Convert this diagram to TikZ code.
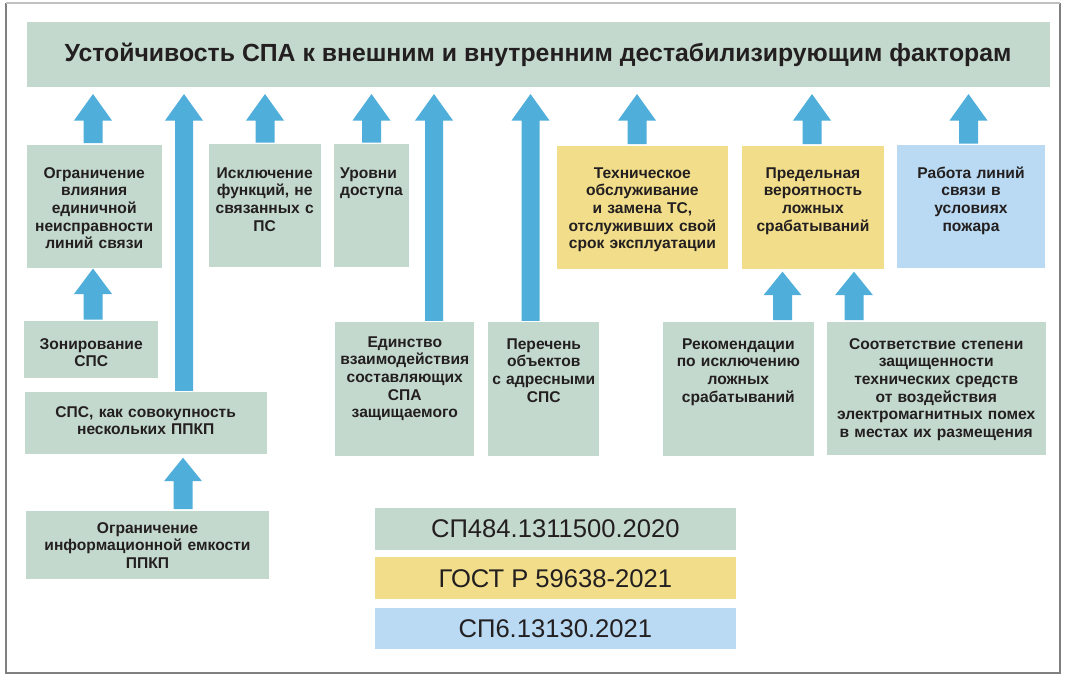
\documentclass[tikz,border=0pt]{standalone}
\usepackage{fontspec}
\setmainfont{Liberation Sans}
\usetikzlibrary{calc}
\definecolor{boxgreen}{RGB}{196,217,205}
\definecolor{boxyellow}{RGB}{242,222,138}
\definecolor{boxblue}{RGB}{185,218,242}
\definecolor{arrowblue}{RGB}{79,174,218}
\definecolor{txtcol}{RGB}{35,31,32}
\tikzset{
  boxnode/.style={rectangle, draw=none, inner sep=0pt, outer sep=0pt},
  boxtext/.style={font=\fontsize{15.6}{17.7}\selectfont\bfseries, text=txtcol, align=center, inner sep=0pt, anchor=base},
  legtext/.style={font=\fontsize{25.6}{30}\selectfont, text=txtcol},
}
% #1 x, #2 source node, #3 target node, #4 gap under target, #5 head length, #6 shaft width
\newcommand\blkarrow[6]{%
  \path[fill=arrowblue] let \p1=(#2.north), \p2=(#3.south) in
    (#1pt-#6pt/2, \y1+1.5pt) -- (#1pt-#6pt/2, \y2-#4pt-#5pt) -- (#1pt-19pt, \y2-#4pt-#5pt)
    -- (#1pt, \y2-#4pt) -- (#1pt+19pt, \y2-#4pt-#5pt) -- (#1pt+#6pt/2, \y2-#4pt-#5pt)
    -- (#1pt+#6pt/2, \y1+1.5pt) -- cycle;
}
\begin{document}
\begin{tikzpicture}[x=1pt,y=-1pt]
\useasboundingbox[fill=white] (0,0) rectangle (1065,678);
% frame
\draw[line width=1.2pt, color={rgb,255:red,128;green,128;blue,128}] (6,3) -- (6,673) -- (1060,673) -- (1060,3);
\draw[line width=1.2pt, color={rgb,255:red,192;green,192;blue,192}] (6,3) -- (1060,3);

% title
\node[boxnode, fill=boxgreen, minimum width=1023pt, minimum height=65.3pt,
      font=\fontsize{24.8}{28}\selectfont\bfseries, text=txtcol] (title) at (538,54.4)
      {Устойчивость СПА к внешним и внутренним дестабилизирующим факторам};

% top row
\node[boxnode, fill=boxgreen, minimum width=135pt, minimum height=123pt] (A) at (94.2,206) {};
\node[boxtext, text width=135pt] (At) at (94.2,178) {Ограничение\\влияния\\единичной\\неисправности\\линий связи};
\node[boxnode, fill=boxgreen, minimum width=112pt, minimum height=123pt] (B) at (264.7,205.5) {};
\node[boxtext, text width=112pt] (Bt) at (264.7,178) {Исключение\\функций, не\\связанных с\\ПС};
\node[boxnode, fill=boxgreen, minimum width=75pt, minimum height=123pt] (C) at (371.2,205.5) {};
\node[boxtext, align=left, text width=66pt, anchor=base west] (Ct) at (340,178) {Уровни\\доступа};
\node[boxnode, fill=boxyellow, minimum width=171.3pt, minimum height=123pt] (D) at (642.35,207) {};
\node[boxtext, text width=171pt] (Dt) at (642.35,178) {Техническое\\обслуживание\\и замена ТС,\\отслуживших свой\\срок эксплуатации};
\node[boxnode, fill=boxyellow, minimum width=141.3pt, minimum height=123pt] (E) at (812.95,207) {};
\node[boxtext, text width=141pt] (Et) at (812.95,178) {Предельная\\вероятность\\ложных\\срабатываний};
\node[boxnode, fill=boxblue, minimum width=148pt, minimum height=123pt] (F) at (971,206.5) {};
\node[boxtext, text width=148pt] (Ft) at (971,178) {Работа линий\\связи в\\условиях\\пожара};

% middle row
\node[boxnode, fill=boxgreen, minimum width=134.3pt, minimum height=57.3pt] (G) at (91.15,349.65) {};
\node[boxtext, text width=134pt] (Gt) at (91.15,349) {Зонирование\\СПС};
\node[boxnode, fill=boxgreen, minimum width=242pt, minimum height=61.7pt] (H) at (145.7,423.15) {};
\node[boxtext, text width=242pt] (Ht) at (145.7,417) {СПС, как совокупность\\нескольких ППКП};
\node[boxnode, fill=boxgreen, minimum width=139pt, minimum height=133.7pt] (I) at (404.8,389.15) {};
\node[boxtext, text width=139pt] (It) at (404.8,347) {Единство\\взаимодействия\\составляющих\\СПА\\защищаемого};
\node[boxnode, fill=boxgreen, minimum width=111pt, minimum height=133.7pt] (J) at (543.8,389.15) {};
\node[boxtext, text width=111pt] (Jt) at (543.8,349) {Перечень\\объектов\\с адресными\\СПС};
\node[boxnode, fill=boxgreen, minimum width=151.3pt, minimum height=134.3pt] (K) at (738.35,388.85) {};
\node[boxtext, text width=151pt] (Kt) at (738.35,349) {Рекомендации\\по исключению\\ложных\\срабатываний};
\node[boxnode, fill=boxgreen, minimum width=219pt, minimum height=133.3pt] (L) at (936.2,388.35) {};
\node[boxtext, text width=219pt] (Lt) at (936.2,349) {Соответствие степени\\защищенности\\технических средств\\от воздействия\\электромагнитных помех\\в местах их размещения};

% bottom
\node[boxnode, fill=boxgreen, minimum width=243.6pt, minimum height=68.6pt] (M) at (147.5,545) {};
\node[boxtext, text width=243pt] (Mt) at (147.5,533) {Ограничение\\информационной емкости\\ППКП};

% legend
\node[boxnode, fill=boxgreen, minimum width=360.7pt, minimum height=41.7pt, legtext] (N1) at (555.35,529.15) {СП484.1311500.2020};
\node[boxnode, fill=boxyellow, minimum width=360.7pt, minimum height=42pt, legtext] (N2) at (555.35,578.3) {ГОСТ Р 59638-2021};
\node[boxnode, fill=boxblue, minimum width=360.7pt, minimum height=41pt, legtext] (N3) at (555.35,628.8) {СП6.13130.2021};

% arrows to title
\blkarrow{93}{A}{title}{7}{26.5}{19}
\blkarrow{184}{H}{title}{7}{26.5}{18}
\blkarrow{265}{B}{title}{7}{26.5}{19}
\blkarrow{371.5}{C}{title}{7}{26.5}{19}
\blkarrow{434}{I}{title}{7}{26.5}{18}
\blkarrow{530.5}{J}{title}{7}{26.5}{18}
\blkarrow{637}{D}{title}{7}{26.5}{19}
\blkarrow{812}{E}{title}{7}{26.5}{19}
\blkarrow{968.5}{F}{title}{7}{26.5}{19}
% lower arrows
\blkarrow{93}{G}{A}{1}{25.5}{19}
\blkarrow{782.5}{K}{E}{3.2}{23.5}{19}
\blkarrow{854}{L}{E}{3.2}{23.5}{19}
\blkarrow{183}{M}{H}{3.7}{23.5}{19}
\end{tikzpicture}
\end{document}
